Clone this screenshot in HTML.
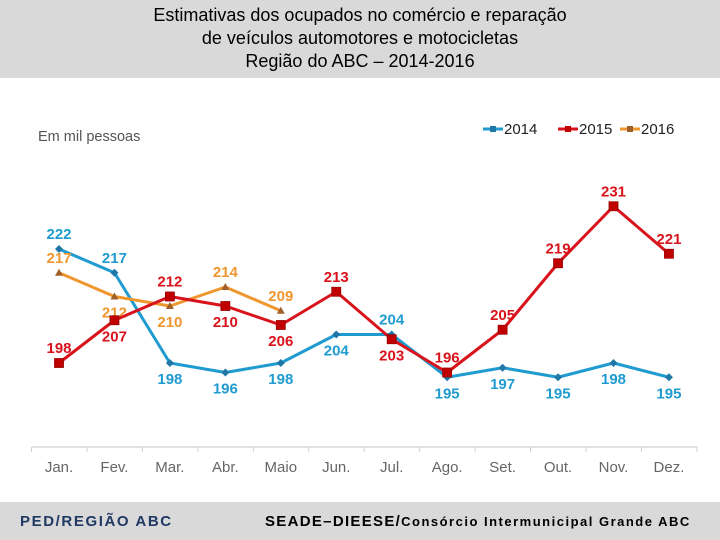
<!DOCTYPE html>
<html><head><meta charset="utf-8">
<style>
body{margin:0;width:720px;height:540px;overflow:hidden;background:#fff;font-family:"Liberation Sans",sans-serif}
#hdr{position:absolute;left:0;top:0;width:720px;height:78px;background:#d9d9d9;text-align:center;font-size:18px;line-height:23px;color:#000;padding-top:4px;box-sizing:border-box}
#ftr{position:absolute;left:0;top:502px;width:720px;height:38px;background:#d9d9d9}
</style></head><body>
<div id="hdr">Estimativas dos ocupados no comércio e reparação<br>de veículos automotores e motocicletas<br>Região do ABC – 2014-2016</div>
<div id="ftr">
<span style="position:absolute;left:20px;top:11px;font-size:15px;font-weight:bold;color:#1f3864;letter-spacing:1.6px">PED/REGIÃO ABC</span>
<span style="position:absolute;left:265px;top:11px;font-size:15px;font-weight:bold;color:#000;letter-spacing:1.3px">SEADE–DIEESE/<span style="font-size:13px;letter-spacing:1.5px">Consórcio Intermunicipal Grande ABC</span></span>
</div>
<svg id="chart" width="720" height="540" style="position:absolute;left:0;top:0"></svg>
<script>
const months=["Jan.","Fev.","Mar.","Abr.","Maio","Jun.","Jul.","Ago.","Set.","Out.","Nov.","Dez."];
const s2014=[222,217,198,196,198,204,204,195,197,195,198,195];
const s2015=[198,207,212,210,206,213,203,196,205,219,231,221];
const s2016=[217,212,210,214,209];
const pos2014=["a","a","b","b","b","b","a","b","b","b","b","b"];
const pos2015=["a","b","a","b","b","a","b","a","a","a","a","a"];
const pos2016=["a","b","b","a","a"];
const NS="http://www.w3.org/2000/svg";
const svg=document.getElementById('chart');
const x=i=>59+i*55.45;
const y=v=>249-(v-222)*4.75;
function mk(t,a,p){const e=document.createElementNS(NS,t);for(const k in a)e.setAttribute(k,a[k]);(p||svg).appendChild(e);return e;}
const ax=mk('line',{x1:32,y1:447,x2:697,y2:447,stroke:'#d9d9d9','stroke-width':1.5});


for(let i=0;i<=12;i++){const t=mk('line',{x1:31.5+i*55.45,y1:447,x2:31.5+i*55.45,y2:452,stroke:'#d0d0d0'});

}
months.forEach((m,i)=>{const t=mk('text',{x:x(i),y:472,'text-anchor':'middle','font-size':15,fill:'#666'});t.textContent=m;

});
const u=mk('text',{x:38,y:141,'font-size':14.5,fill:'#555'});u.textContent='Em mil pessoas';


function series(vals,pos,color,mark,name){
 const g=mk('g',{});
 
 
 mk('polyline',{points:vals.map((v,i)=>x(i)+','+y(v)).join(' '),fill:'none',stroke:color,'stroke-width':3,'stroke-linejoin':'round'},g);
 vals.forEach((v,i)=>{
  const cx=x(i),cy=y(v);let m;
  if(mark==='d')m=mk('polygon',{points:`${cx},${cy-4} ${cx+4},${cy} ${cx},${cy+4} ${cx-4},${cy}`,fill:'#1f77a8'},g);
  else if(mark==='s')m=mk('rect',{x:cx-4.5,y:cy-4.5,width:9,height:9,fill:'#c00000',stroke:'#900',"stroke-width":0.8},g);
  else m=mk('polygon',{points:`${cx},${cy-4} ${cx+4},${cy+3} ${cx-4},${cy+3}`,fill:'#a0602a'},g);
  
  
  const t=mk('text',{x:cx,y:pos[i]==='a'?cy-10:cy+21,'text-anchor':'middle','font-size':15,'font-weight':'bold',fill:color},g);
  t.textContent=v;
  
  
 });
}
series(s2014,pos2014,'#1f9bd0','d','2014');
series(s2016,pos2016,'#f0962e','t','2016');
series(s2015,pos2015,'#d9131b','s','2015');
const leg=[['2014','#1f9bd0','#1f77a8',483],['2015','#d9131b','#c00000',558],['2016','#f0962e','#a0602a',620]];
leg.forEach(l=>{const g=mk('g',{});
 
 
 mk('line',{x1:l[3],y1:129,x2:l[3]+20,y2:129,stroke:l[1],'stroke-width':3},g);
 mk('rect',{x:l[3]+7,y:126,width:6,height:6,fill:l[2]},g);
 const t=mk('text',{x:l[3]+21,y:134,'font-size':15,fill:'#222'},g);t.textContent=l[0];});
</script>
</body></html>
